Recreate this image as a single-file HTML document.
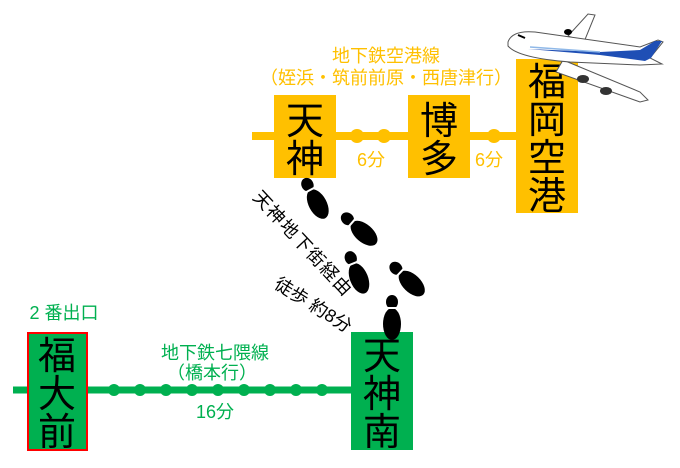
<!DOCTYPE html>
<html><head><meta charset="utf-8"><style>
body{margin:0;background:#fff;}
svg{display:block}
text{font-family:"Liberation Sans","Noto Sans CJK JP",sans-serif;}
</style></head><body>
<svg width="680" height="468" viewBox="0 0 680 468" xmlns="http://www.w3.org/2000/svg">
<line x1="252" y1="136" x2="520" y2="136" stroke="#FFC000" stroke-width="8"/>
<circle cx="357" cy="136" r="7" fill="#FFC000"/>
<circle cx="384" cy="136" r="7" fill="#FFC000"/>
<circle cx="494" cy="136" r="7" fill="#FFC000"/>
<rect x="274" y="95" width="62" height="83" fill="#FFC000"/>
<rect x="408" y="95" width="62" height="83" fill="#FFC000"/>
<rect x="516" y="59" width="62" height="154" fill="#FFC000"/>
<g font-size="38" fill="#000" text-anchor="middle">
<text x="305" y="134">天</text><text x="305" y="172">神</text>
<text x="439" y="134">博</text><text x="439" y="172">多</text>
<text x="547" y="95">福</text><text x="547" y="133">岡</text>
<text x="547" y="171">空</text><text x="547" y="209">港</text>
</g>
<g font-size="18" fill="#FFC000" text-anchor="middle">
<text x="386" y="62">地下鉄空港線</text>
<text x="386" y="84">（姪浜・筑前前原・西唐津行）</text>
<text x="371" y="166">6分</text>
<text x="489" y="166">6分</text>
</g>
<line x1="13" y1="390" x2="352" y2="390" stroke="#00B050" stroke-width="7"/>
<g fill="#00B050">
<circle cx="114" cy="390" r="6"/><circle cx="140" cy="390" r="6"/><circle cx="166" cy="390" r="6"/>
<circle cx="192" cy="390" r="6"/><circle cx="218" cy="390" r="6"/><circle cx="244" cy="390" r="6"/>
<circle cx="270" cy="390" r="6"/><circle cx="296" cy="390" r="6"/><circle cx="322" cy="390" r="6"/>
</g>
<rect x="28" y="333" width="59" height="117" fill="#00B050" stroke="#FF0000" stroke-width="2"/>
<rect x="351" y="332" width="62" height="118" fill="#00B050"/>
<g font-size="38" fill="#000" text-anchor="middle">
<text x="57" y="369">福</text><text x="57" y="407">大</text><text x="57" y="445">前</text>
<text x="382" y="369">天</text><text x="382" y="407">神</text><text x="382" y="445">南</text>
</g>
<g font-size="18" fill="#00B050" text-anchor="middle">
<text x="64" y="319">2 番出口</text>
<text x="215" y="359">地下鉄七隈線</text>
<text x="212" y="379">（橋本行）</text>
<text x="215" y="418">16分</text>
</g>
<text font-size="18" letter-spacing="1.5" fill="#000" transform="translate(252,198) rotate(47)">天神地下街経由</text>
<text font-size="18" fill="#000" transform="translate(273,287) rotate(32)">徒歩  約8分</text>
<defs>
<g id="fp">
<ellipse cx="0" cy="8" rx="9" ry="16" fill="#000"/>
<ellipse cx="0" cy="-14" rx="6" ry="7" fill="#000"/>
<line x1="-10" y1="-8" x2="10" y2="-8" stroke="#fff" stroke-width="2"/>
</g>
</defs>
<use href="#fp" transform="translate(314,197) rotate(-28)"/>
<use href="#fp" transform="translate(358,228) rotate(-49)"/>
<use href="#fp" transform="translate(356,271) rotate(-22)"/>
<use href="#fp" transform="translate(406,278) rotate(-46)"/>
<use href="#fp" transform="translate(392,316)"/>
<g stroke="#555" stroke-width="1" fill="#fff">
<path d="M568,36 L588,14 L595,15 L584,42 Z"/>
<path d="M563,60 L640,92 L648,100 L640,102 L556,72 Z"/>
<path d="M508,42 Q512,30 535,32 L640,47 L658,40 L663,42 L650,58 L662,64 L640,65 L570,62 Q518,58 508,46 Z"/>
</g>
<path d="M528,49 L600,55 L645,61 L651,58 L662,41 L655,41 L640,50 L600,52 Z" fill="#1F4FB5"/>
<path d="M530,47 L600,52" stroke="#8FB8E8" stroke-width="1.5"/>
<ellipse cx="568" cy="32" rx="4" ry="3" fill="#000"/>
<ellipse cx="583" cy="79" rx="6" ry="4" fill="#333"/>
<ellipse cx="606" cy="91" rx="6" ry="4" fill="#333"/>
<line x1="518" y1="35" x2="525" y2="38" stroke="#000" stroke-width="2"/>
</svg>
</body></html>
